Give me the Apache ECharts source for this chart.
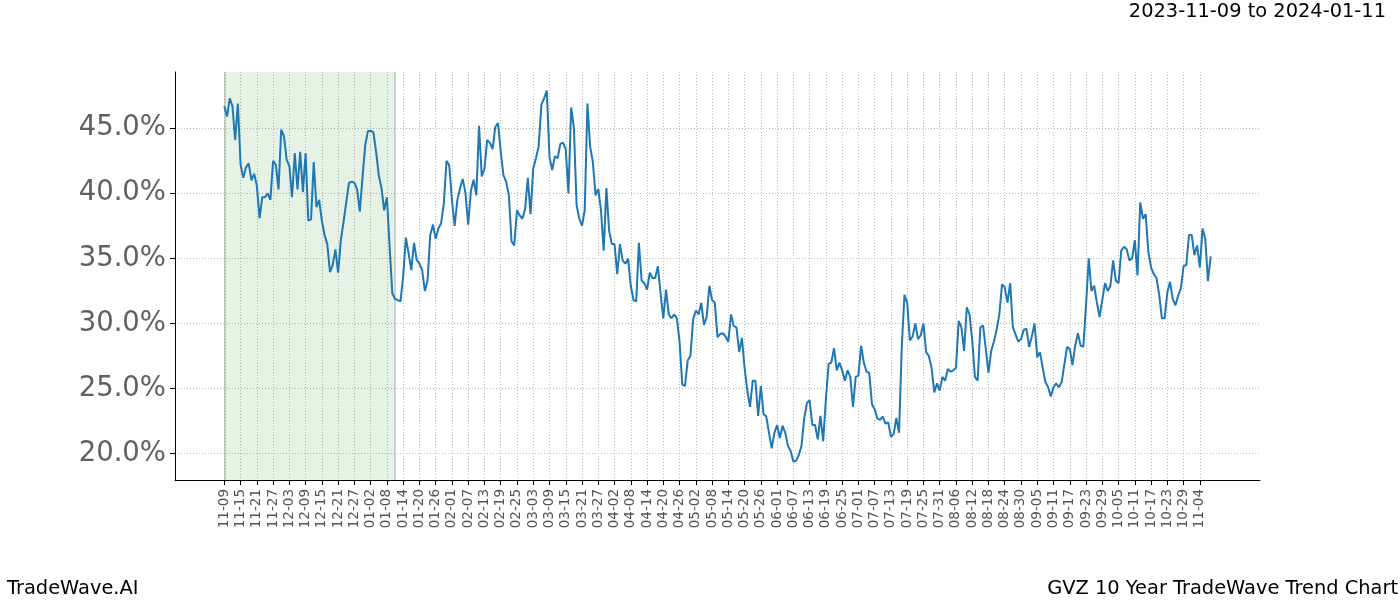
<!DOCTYPE html>
<html><head><meta charset="utf-8">
<script src="https://cdn.jsdelivr.net/npm/echarts@6/dist/echarts.min.js"></script>
<style>html,body{margin:0;padding:0;background:#fff}#c{width:1400px;height:600px}</style>
</head><body><div id="c"></div>
<script>
const xTickLabels = ['11-09','11-15','11-21','11-27','12-03','12-09','12-15','12-21','12-27','01-02','01-08','01-14','01-20','01-26','02-01','02-07','02-13','02-19','02-25','03-03','03-09','03-15','03-21','03-27','04-02','04-08','04-14','04-20','04-26','05-02','05-08','05-14','05-20','05-26','06-01','06-07','06-13','06-19','06-25','07-01','07-07','07-13','07-19','07-25','07-31','08-06','08-12','08-18','08-24','08-30','09-05','09-11','09-17','09-23','09-29','10-05','10-11','10-17','10-23','10-29','11-04'];
const tickStep = 6;
const yTicks = [20, 25, 30, 35, 40, 45];
const shadeRange = [0, 63];
const titleText = '2023-11-09 to 2024-01-11';
const leftFooter = 'TradeWave.AI';
const rightFooter = 'GVZ 10 Year TradeWave Trend Chart';
const values = [
46.7,45.9,47.3,46.7,44.1,46.9,42.2,41.2,42.0,42.3,41.0,41.5,40.6,38.1,39.7,39.7,40.0,39.5,42.5,42.2,
40.3,44.9,44.4,42.6,42.1,39.7,43.1,40.3,43.2,40.1,43.1,37.9,38.0,42.4,38.95,39.5,37.9,36.8,36.1,33.95,
34.5,35.7,33.9,36.4,37.8,39.3,40.8,40.9,40.8,40.3,38.6,41.25,43.7,44.8,44.8,44.7,43.2,41.4,40.4,38.7,
39.7,35.9,32.3,31.9,31.8,31.7,33.6,36.6,35.4,34.1,36.2,34.9,34.6,34.1,32.5,33.3,36.8,37.6,36.5,37.3,
37.7,39.2,42.5,42.15,39.5,37.5,39.5,40.4,41.1,40.0,37.6,40.2,41.05,39.85,45.2,41.3,41.9,44.1,43.9,43.4,
45.1,45.4,43.2,41.4,40.9,39.85,36.3,36.0,38.7,38.3,38.05,38.8,41.2,38.4,41.9,42.7,43.6,46.8,47.3,47.9,
42.8,41.8,42.85,42.7,43.8,43.9,43.4,40.0,46.6,45.05,39.1,38.05,37.5,38.7,46.9,43.6,42.4,39.85,40.35,38.7,
35.6,40.4,37.15,36.1,36.1,33.8,36.1,34.85,34.6,34.97,32.9,31.8,31.7,36.2,33.3,33.1,32.6,33.9,33.5,33.5,
34.4,32.3,30.4,32.6,30.7,30.4,30.7,30.4,28.6,25.3,25.2,27.15,27.5,30.3,31.0,30.7,31.6,29.9,30.5,32.9,
31.8,31.6,28.95,29.2,29.25,29.0,28.6,30.7,29.8,29.7,27.8,28.9,26.6,24.85,23.6,25.6,25.6,22.9,25.2,23.05,
22.85,21.6,20.4,21.6,22.2,21.2,22.15,21.6,20.6,20.2,19.4,19.45,19.9,20.6,22.7,23.9,24.1,22.2,22.2,21.1,
22.9,20.95,24.2,26.9,27.0,28.1,26.4,27.0,26.4,25.6,26.4,25.9,23.6,25.9,26.0,28.3,27.0,26.3,26.2,23.8,
23.4,22.7,22.6,22.85,22.3,22.4,21.3,21.5,22.75,21.6,28.2,32.2,31.6,28.7,29.0,30.0,28.8,29.1,30.0,27.8,
27.5,26.6,24.7,25.4,24.85,25.9,25.6,26.5,26.3,26.4,26.6,30.2,29.7,27.9,31.25,30.7,28.7,25.9,25.6,29.7,
29.85,28.05,26.2,27.9,28.6,29.5,30.7,33.0,32.8,31.6,33.1,29.7,29.15,28.6,28.8,29.5,29.6,28.2,29.0,30.0,
27.4,27.8,26.6,25.5,25.1,24.4,25.1,25.4,25.1,25.5,26.85,28.2,28.05,26.8,28.3,29.25,28.3,28.2,31.4,35.0,
32.5,32.9,31.6,30.5,31.8,33.1,32.5,32.9,34.85,33.3,33.1,35.6,35.9,35.7,34.85,35.0,36.4,33.7,39.3,38.05,
38.4,35.5,34.3,33.8,33.5,32.2,30.4,30.4,32.4,33.2,31.9,31.4,32.15,32.7,34.4,34.5,36.8,36.8,35.25,36.0,
34.3,37.3,36.5,33.25,35.15
];

const n = values.length;
const span = n - 1;
const xMin = -span * 0.05, xMax = span * 1.05;
const vMin = Math.min(...values), vMax = Math.max(...values);
const yMin = vMin - (vMax - vMin) * 0.05, yMax = vMax + (vMax - vMin) * 0.05;
const xTickValues = xTickLabels.map((_, i) => i * tickStep);
const seriesData = values.map((v, i) => [i, v]);
const FONT = 'DejaVu Sans';
const textSt = {fontFamily: FONT, fontSize: 19.4, fontWeight: 'normal', color: '#000'};

const chart = echarts.init(document.getElementById('c'), null, {renderer: 'canvas'});
chart.setOption({
  animation: false,
  backgroundColor: '#ffffff',
  textStyle: {fontFamily: FONT},
  grid: {left: 175, right: 140, top: 72, bottom: 120, containLabel: false, outerBoundsMode: 'none'},
  title: [
    {text: titleText, right: 14, top: 2, padding: 0, textStyle: textSt},
    {text: leftFooter, left: 7, bottom: 2, padding: 0, textStyle: textSt},
    {text: rightFooter, right: 2, bottom: 2, padding: 0, textStyle: textSt}
  ],
  xAxis: {
    type: 'value', min: xMin, max: xMax,
    axisLine: {show: true, onZero: false, lineStyle: {color: '#000', width: 1}},
    axisTick: {show: true, customValues: xTickValues, length: 5, lineStyle: {color: '#000', width: 1}},
    axisLabel: {show: true, customValues: xTickValues, rotate: 90, margin: 9, fontSize: 13.5, color: '#555',
      fontFamily: FONT, formatter: v => xTickLabels[Math.round(v / tickStep)] || ''},
    splitLine: {show: true, lineStyle: {color: '#aaaaaa', width: 0.8, type: [1, 2]}}
  },
  yAxis: {
    type: 'value', min: yMin, max: yMax,
    axisLine: {show: true, onZero: false, lineStyle: {color: '#000', width: 1}},
    axisTick: {show: true, customValues: yTicks, length: 5, lineStyle: {color: '#000', width: 1}},
    axisLabel: {show: true, customValues: yTicks, margin: 9, fontSize: 27.5, color: '#606060', fontFamily: FONT,
      padding: [5, 0, 0, 0], formatter: v => v.toFixed(1) + '%'},
    splitLine: {show: true, lineStyle: {color: '#aaaaaa', width: 0.8, type: [1, 2]}}
  },
  series: [{
    type: 'line', data: seriesData, showSymbol: false, smooth: false,
    lineStyle: {color: '#1f77b4', width: 2}, itemStyle: {color: '#1f77b4'},
    z: 5,
    markArea: {silent: true, itemStyle: {color: 'rgba(0,128,0,0.1)'},
      data: [[{xAxis: shadeRange[0]}, {xAxis: shadeRange[1]}]]},
    markLine: {silent: true, symbol: 'none', label: {show: false},
      lineStyle: {color: 'rgba(150,165,150,0.45)', width: 2, type: 'solid'},
      data: [{xAxis: shadeRange[0]}, {xAxis: shadeRange[1]}]}
  }]
});
</script></body></html>
